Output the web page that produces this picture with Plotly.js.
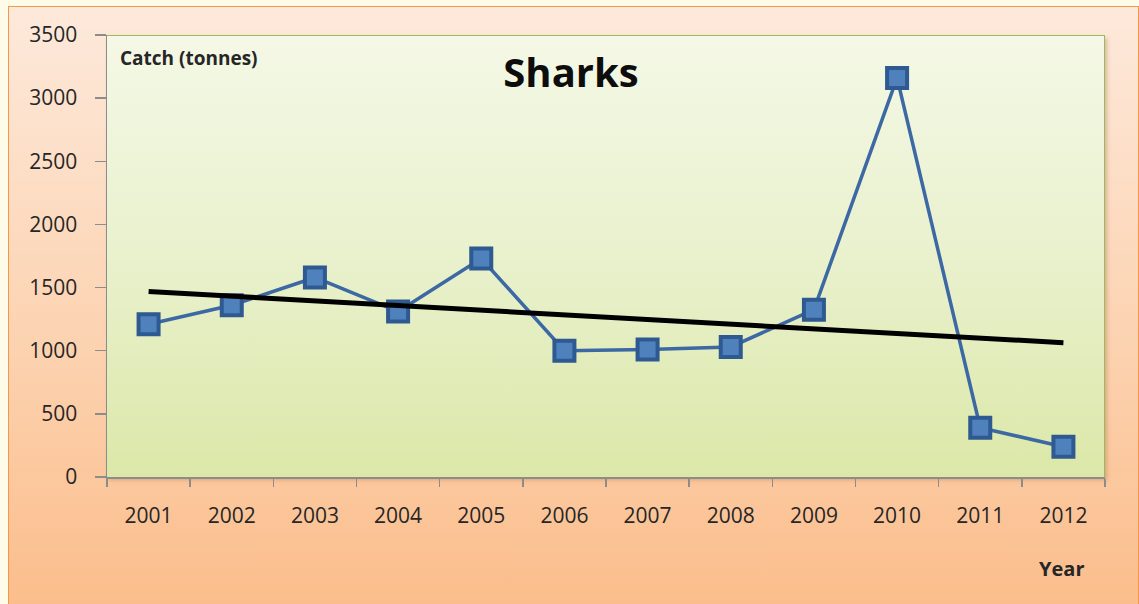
<!DOCTYPE html>
<html>
<head>
<meta charset="utf-8">
<script src="https://cdn.plot.ly/plotly-3.0.1.min.js"></script>
<style>
  html, body { margin:0; padding:0; width:1139px; height:604px; overflow:hidden; background:#fffbe9; }
  #frame { position:absolute; left:8px; top:6px; width:1131px; height:604px; box-sizing:border-box;
    border:1.5px solid #f79646;
    background:linear-gradient(to bottom, #fde9db 0%, #fcd3b1 55%, #fbbd8b 100%); }
  #plotbg { position:absolute; left:107px; top:35px; width:998px; height:442px; box-sizing:border-box;
    border-top:1.5px solid #9bbb59; border-right:1.5px solid #9bbb59;
    background:linear-gradient(to bottom, #f4f8e6 0%, #e9f1cd 50%, #dbe8a8 100%);
    box-shadow: 2px 3px 4px rgba(150,100,60,0.35); }
  #chart { position:absolute; left:0; top:0; width:1139px; height:604px; }
</style>
</head>
<body>
<div id="frame"></div>
<div id="plotbg"></div>
<div id="chart"></div>
<script>
const years = ['2001','2002','2003','2004','2005','2006','2007','2008','2009','2010','2011','2012'];
const catch_t = [1210, 1360, 1580, 1310, 1730, 1000, 1010, 1030, 1325, 3160, 390, 240];
const trendYears = ['2001', '2012'];
const trendValues = [1468, 1063];
const yTicks = [0, 500, 1000, 1500, 2000, 2500, 3000, 3500];

const font = '"Open Sans", Lato, "Liberation Sans", sans-serif';

const traces = [
  {
    x: years, y: catch_t, type: 'scatter', mode: 'lines+markers',
    line: {color: '#3c68a4', width: 3.5},
    marker: {symbol: 'square', size: 20, color: '#4f81bd', line: {color: '#2f5a91', width: 4}},
    hoverinfo: 'x+y', showlegend: false
  },
  {
    x: trendYears, y: trendValues, type: 'scatter', mode: 'lines',
    line: {color: '#000000', width: 5},
    hoverinfo: 'skip', showlegend: false
  }
];

const layout = {
  width: 1139, height: 604,
  margin: {l: 107, r: 34, t: 35, b: 127, pad: 0},
  paper_bgcolor: 'rgba(0,0,0,0)',
  plot_bgcolor: 'rgba(0,0,0,0)',
  font: {family: font, size: 20, color: '#262626'},
  showlegend: false,
  xaxis: {
    type: 'category', tickson: 'boundaries',
    showline: true, linecolor: '#8c8c8c', linewidth: 1.5,
    ticks: 'outside', ticklen: 8, tickcolor: '#8c8c8c', tickwidth: 1.5,
    ticklabelstandoff: 19,
    showgrid: false, zeroline: false,
    tickfont: {family: font, size: 21, color: '#262626'},
    range: [-0.5, 11.5]
  },
  yaxis: {
    range: [0, 3500], tickvals: yTicks, ticktext: yTicks.map(String),
    showline: true, linecolor: '#8c8c8c', linewidth: 1.5,
    ticks: 'outside', ticklen: 11, tickcolor: '#8c8c8c', tickwidth: 1.5,
    ticklabelstandoff: 13,
    showgrid: false, zeroline: false,
    tickfont: {family: font, size: 21, color: '#262626'}
  },
  title: {
    text: '<b>Sharks</b>', font: {family: font, size: 40, color: '#0d0d0d'},
    x: 571/1139, xanchor: 'center', y: 1 - 73/604, yanchor: 'middle'
  },
  annotations: [
    {text: '<b>Catch (tonnes)</b>', xref: 'paper', yref: 'paper', x: (118-107)/998, y: 1 - (58-35)/442,
     xanchor: 'left', yanchor: 'middle', showarrow: false, font: {family: font, size: 19, color: '#262626'}},
    {text: '<b>Year</b>', xref: 'paper', yref: 'paper', x: (1061-107)/998, y: -(568-477)/442,
     xanchor: 'center', yanchor: 'middle', showarrow: false, font: {family: font, size: 20, color: '#262626'}}
  ]
};

Plotly.newPlot('chart', traces, layout, {displayModeBar: false, staticPlot: true});
</script>
</body>
</html>
